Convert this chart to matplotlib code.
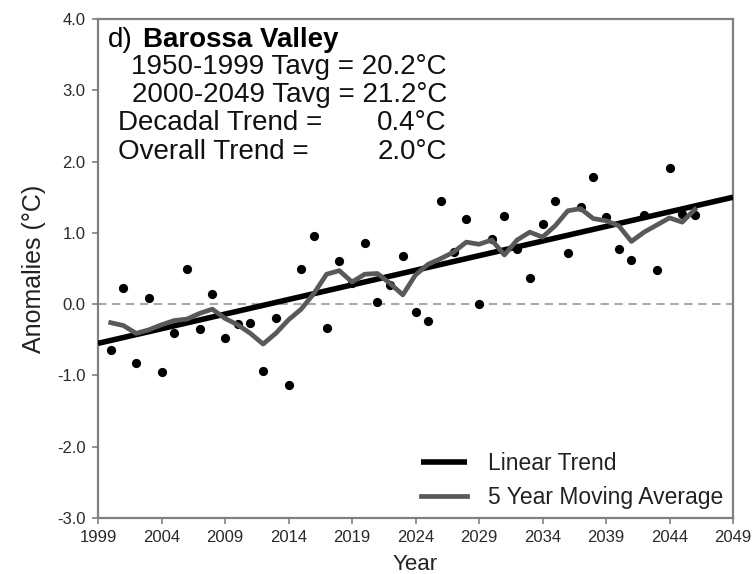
import numpy as np
import matplotlib
matplotlib.use("Agg")
import matplotlib.pyplot as plt

plt.rcParams["font.family"] = ["Liberation Sans", "DejaVu Sans"]

# --- data ---
years = np.arange(2000, 2047)
anomalies = [-0.64, 0.23, -0.83, 0.08, -0.95, -0.40, 0.49, -0.35, 0.14, -0.47,
             -0.28, -0.27, -0.94, -0.20, -1.13, 0.49, 0.96, -0.34, 0.61, 0.30,
             0.86, 0.03, 0.27, 0.67, -0.11, -0.23, 1.45, 0.73, 1.20, 0.00,
             0.92, 1.24, 0.77, 0.37, 1.12, 1.45, 0.72, 1.36, 1.79, 1.22,
             0.78, 0.62, 1.25, 0.48, 1.91, 1.27, 1.25]
moving_avg = [-0.26, -0.30, -0.41, -0.36, -0.29, -0.23, -0.21, -0.13, -0.07, -0.20,
              -0.29, -0.41, -0.56, -0.41, -0.22, -0.07, 0.15, 0.42, 0.47, 0.31,
              0.42, 0.43, 0.29, 0.13, 0.41, 0.56, 0.64, 0.73, 0.87, 0.84,
              0.90, 0.69, 0.90, 1.01, 0.94, 1.10, 1.31, 1.34, 1.20, 1.17,
              1.10, 0.88, 1.01, 1.11, 1.21, 1.15, 1.33]
trend_years = [1999, 2049]
trend_values = [-0.55, 1.50]

xticks = list(range(1999, 2050, 5))
yticks = [-3.0, -2.0, -1.0, 0.0, 1.0, 2.0, 3.0, 4.0]
ytick_labels = ["-3.0", "-2.0", "-1.0", "0.0", "1.0", "2.0", "3.0", "4.0"]

station = "Barossa Valley"
info_lines = ["1950-1999 Tavg = 20.2°C", "2000-2049 Tavg = 21.2°C"]
trend_labels = [("Decadal Trend =", "0.4°C"), ("Overall Trend =", "2.0°C")]

# --- figure ---
W, H = 754, 574
fig = plt.figure(figsize=(W / 100, H / 100), dpi=100)
ax = fig.add_axes([98 / W, 1 - 518 / H, 635 / W, 499 / H])

ax.axhline(0, color="#aaaaaa", lw=1.5, dashes=(4, 2.7), zorder=1)
ax.scatter(years, anomalies, s=44, color="black", zorder=3, linewidths=0)
ax.plot(trend_years, trend_values, color="black", lw=4.0, zorder=4,
        solid_capstyle="butt", label="Linear Trend")
ax.plot(years, moving_avg, color="#595959", lw=3.4, zorder=5,
        solid_joinstyle="round", label="5 Year Moving Average")

ax.set_xlim(1999, 2049)
ax.set_ylim(-3, 4)
ax.set_xticks(xticks)
ax.set_yticks(yticks)
ax.set_yticklabels(ytick_labels)
for s in ax.spines.values():
    s.set_color("#808080")
    s.set_linewidth(1.6)
ax.tick_params(direction="out", length=4, width=1.2, color="#808080",
               labelsize=12, labelcolor="#2a2a2a", pad=5)

ax.set_xlabel("Year", fontsize=16, color="#222222", labelpad=6)
ax.set_ylabel("Anomalies (°C)", fontsize=18, color="#222222", labelpad=8)

leg = ax.legend(loc="lower right", bbox_to_anchor=(0.984, 0.018), frameon=False,
                fontsize=16.5, handlelength=2.0, handletextpad=0.9,
                labelspacing=0.5, borderpad=0, borderaxespad=0)
for t in leg.get_texts():
    t.set_color("#222222")

# --- annotation block ---
fs = 20
fig.text(108 / W, 1 - 40 / H, "d)", fontsize=fs, va="center", ha="left")
fig.text(143 / W, 1 - 40 / H, station, fontsize=fs, fontweight="bold",
         va="center", ha="left")
for i, line in enumerate(info_lines):
    fig.text(447 / W, 1 - (67 + 27.5 * i) / H, line, fontsize=fs,
             va="center", ha="right", color="#111111")
for i, (lab, val) in enumerate(trend_labels):
    y = 1 - (123 + 29 * i) / H
    fig.text(118 / W, y, lab, fontsize=fs, va="center", ha="left", color="#111111")
    fig.text(447 / W, y, val, fontsize=fs, va="center", ha="right", color="#111111")

fig.savefig("out.png", dpi=100)
